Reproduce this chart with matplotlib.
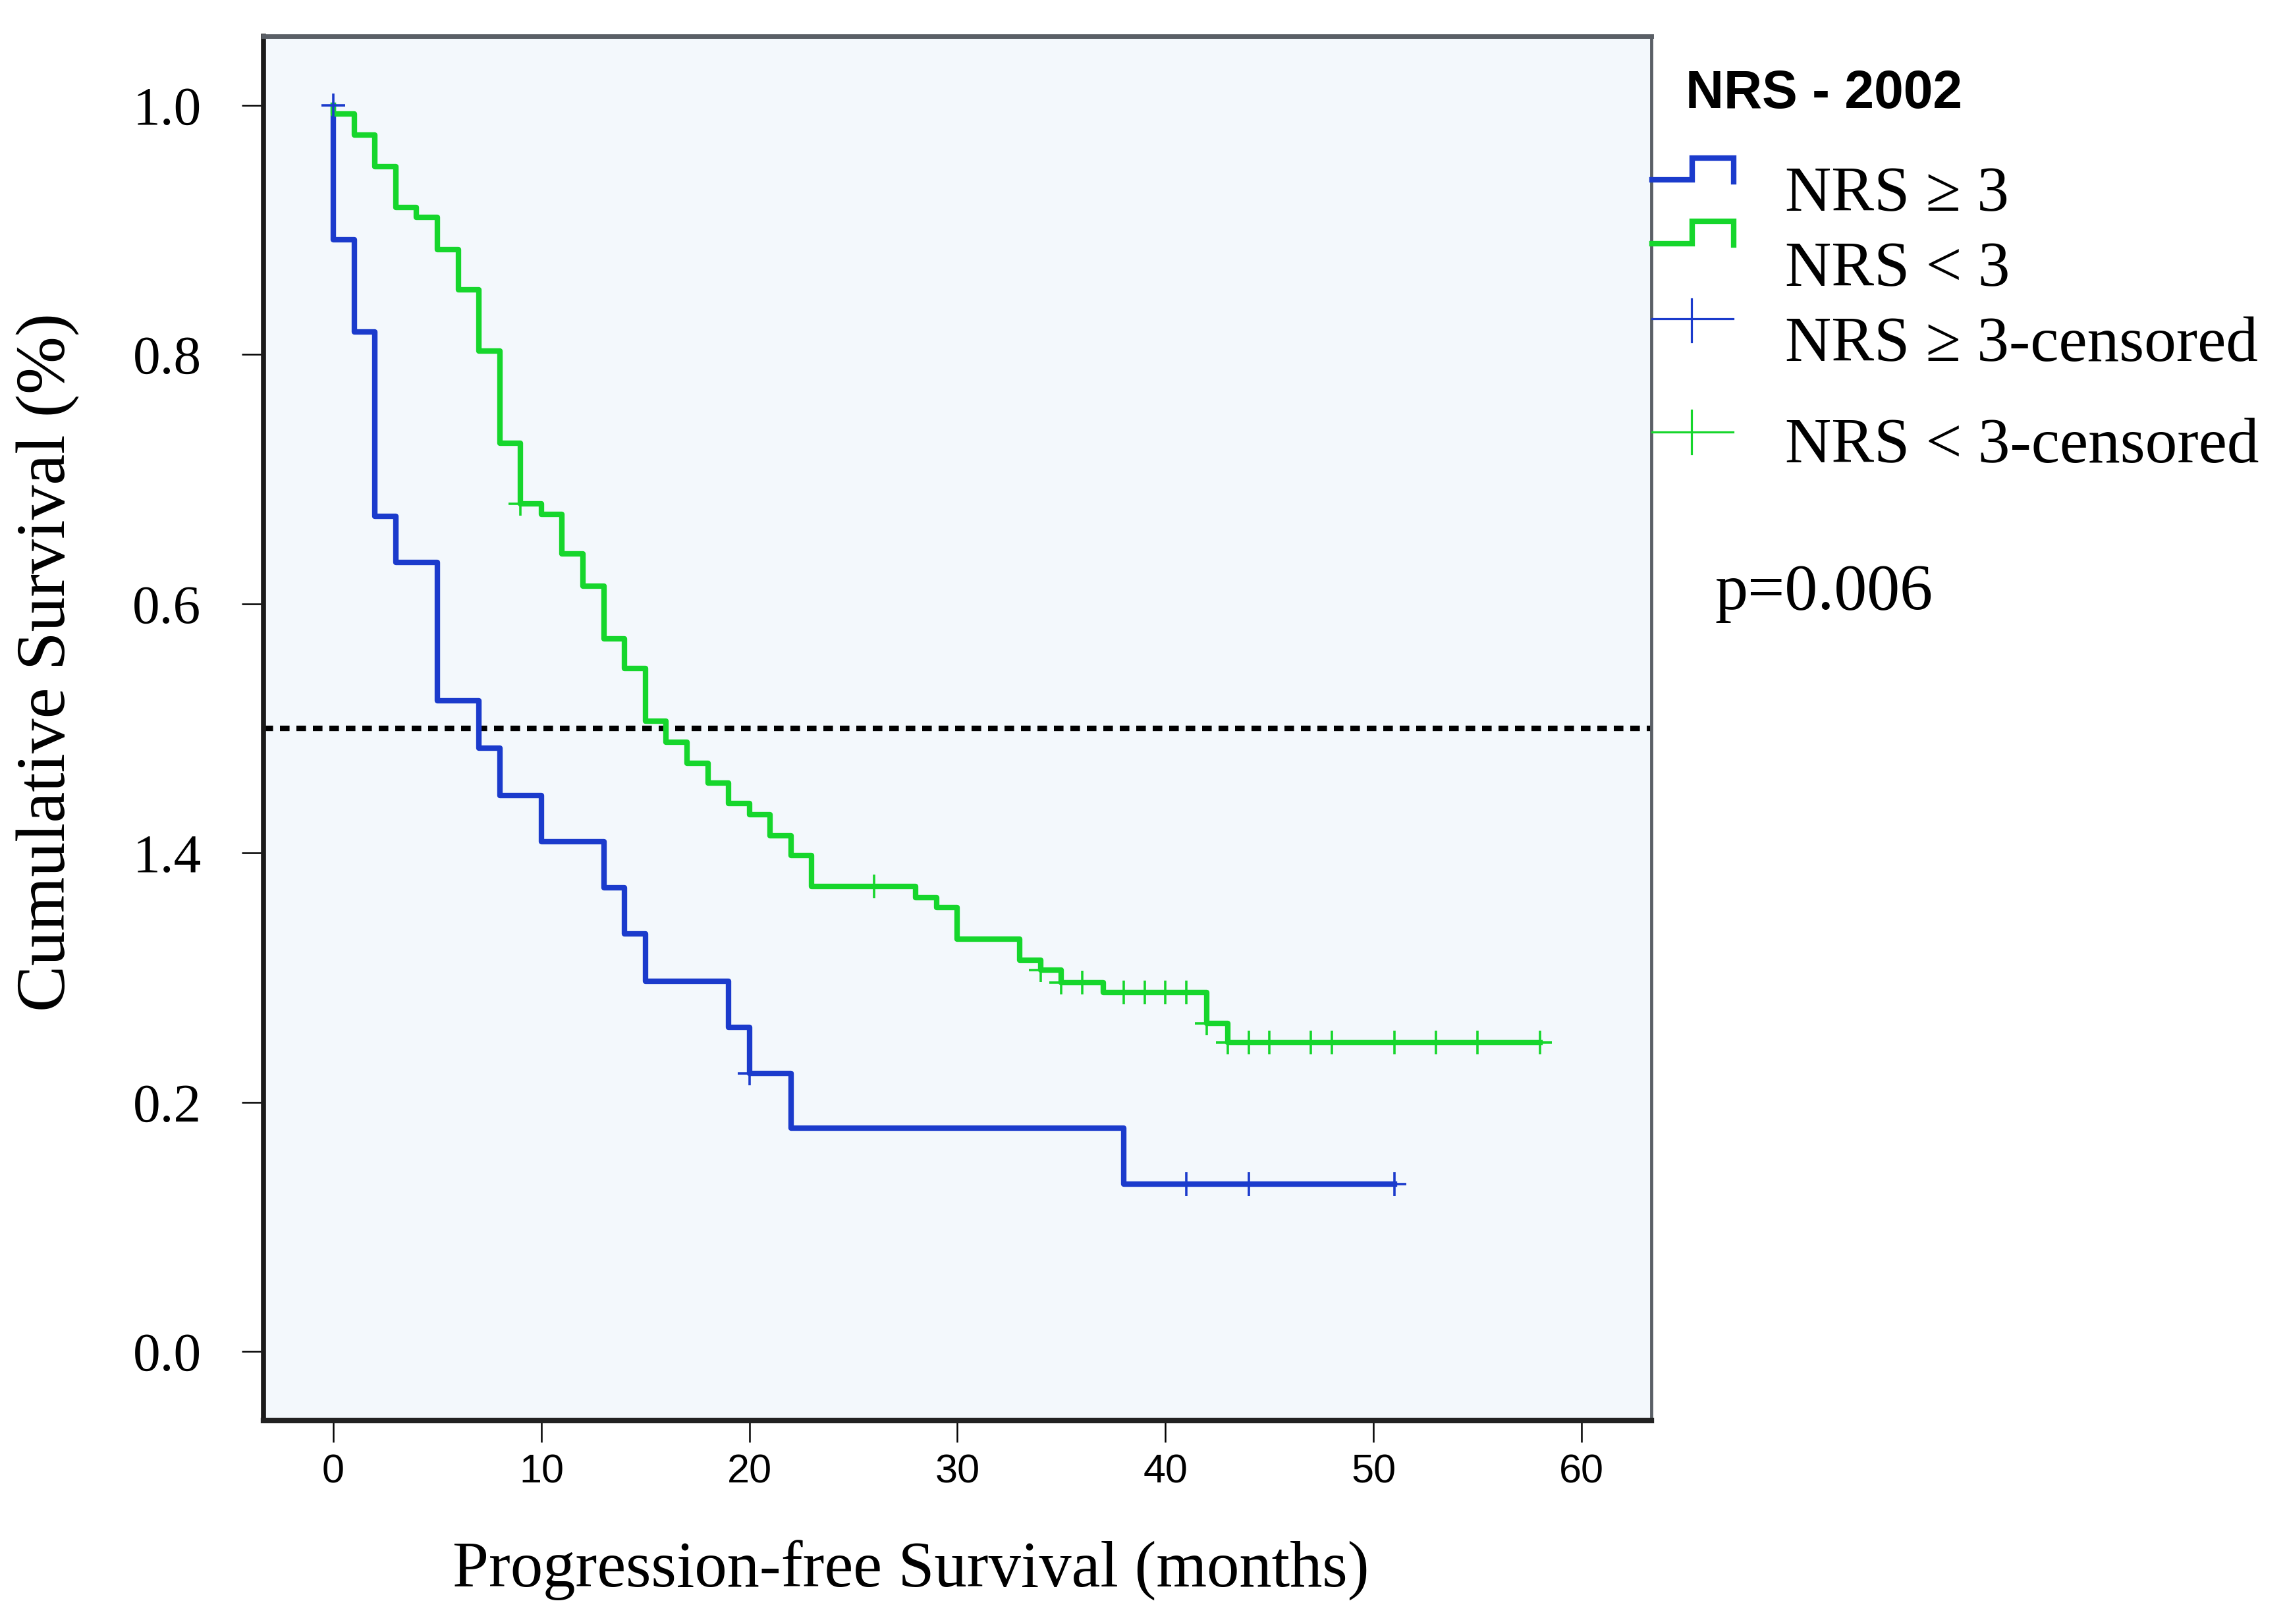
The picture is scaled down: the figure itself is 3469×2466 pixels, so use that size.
import numpy as np
import matplotlib.pyplot as plt

plt.rcParams['lines.scale_dashes'] = False
serif = ['Liberation Serif', 'DejaVu Serif']

# Kaplan-Meier steps (months, cumulative survival)
months_high = [0, 0, 1, 2, 3, 5, 7, 8, 10, 13, 14, 15, 19, 20, 22, 38, 51]
surv_high = [1.0, 0.892, 0.818, 0.670, 0.633, 0.522, 0.484, 0.446, 0.409,
             0.372, 0.335, 0.297, 0.260, 0.223, 0.179, 0.134, 0.134]
cens_high_t = [0, 20, 41, 44, 51]
cens_high_s = [1.0, 0.223, 0.134, 0.134, 0.134]

months_low = [0, 0, 1, 2, 3, 4, 5, 6, 7, 8, 9, 10, 11, 12, 13, 14, 15, 16, 17,
              18, 19, 20, 21, 22, 23, 28, 29, 30, 33, 34, 35, 37, 42, 43, 58]
surv_low = [1.0, 0.993, 0.976, 0.951, 0.918, 0.910, 0.884, 0.852, 0.803, 0.729,
            0.680, 0.672, 0.640, 0.614, 0.572, 0.548, 0.506, 0.489, 0.472, 0.456,
            0.440, 0.431, 0.414, 0.398, 0.373, 0.364, 0.356, 0.331, 0.314, 0.306,
            0.296, 0.288, 0.263, 0.248, 0.248]
cens_low_t = [9, 26, 34, 35, 36, 38, 39, 40, 41, 42, 43, 44, 45, 47, 48, 51, 53, 55, 58]
cens_low_s = [0.680, 0.373, 0.306, 0.296, 0.296, 0.288, 0.288, 0.288, 0.288, 0.263,
              0.248, 0.248, 0.248, 0.248, 0.248, 0.248, 0.248, 0.248, 0.248]

xticks = [0, 10, 20, 30, 40, 50, 60]
yticks = [0.0, 0.2, 0.4, 0.6, 0.8, 1.0]
ytick_labels = ['0.0', '0.2', '1.4', '0.6', '0.8', '1.0']

legend_labels = ['NRS \u2265 3', 'NRS < 3', 'NRS \u2265 3-censored', 'NRS < 3-censored']

blue = '#1B3BCC'
green = '#16D62C'

W, H = 3469, 2466
fig = plt.figure(figsize=(W / 100, H / 100), dpi=100)
fig.patch.set_facecolor('white')

ax = fig.add_axes([400 / W, 1 - 2157 / H, 2107 / W, 2102 / H])
ax.set_facecolor('#F3F8FC')

ax.step(months_high, surv_high, where='post', color=blue, lw=6, zorder=3)
ax.step(months_low, surv_low, where='post', color=green, lw=6, zorder=3)
ax.plot(cens_high_t, cens_high_s, ls='none', marker='+', ms=26, mew=2.6, color=blue, zorder=4)
ax.plot(cens_low_t, cens_low_s, ls='none', marker='+', ms=26, mew=2.6, color=green, zorder=4)

ax.axhline(0.5, color='black', lw=6, dashes=(10.5, 7.5), zorder=2)

ax.set_xlim(-3.36, 63.36)
ax.set_ylim(-0.0555, 1.0555)
ax.set_xticks(xticks)
ax.set_yticks(yticks)
ax.set_yticklabels(ytick_labels)

for lab in ax.get_yticklabels():
    lab.set_family(serif)
    lab.set_fontsize(60)
for lab in ax.get_xticklabels():
    lab.set_family('Liberation Sans')
    lab.set_fontsize(44)

ax.tick_params(axis='both', direction='out', length=24, width=1.8, color='black')
ax.tick_params(axis='y', pad=44)
ax.tick_params(axis='x', pad=12)

ax.spines['left'].set_color('#1a1a1a')
ax.spines['left'].set_linewidth(5.5)
ax.spines['bottom'].set_color('#222222')
ax.spines['bottom'].set_linewidth(6)
ax.spines['top'].set_color('#5a5f66')
ax.spines['top'].set_linewidth(5)
ax.spines['right'].set_color('#5a5f66')
ax.spines['right'].set_linewidth(3.5)

fig.text(73 / W, 1 - 1005 / H, 'Cumulative Survival (%)', rotation=90,
         ha='center', va='center', fontsize=76, family=serif)
fig.text(1383 / W, 1 - 2410 / H, 'Progression-free Survival (months)',
         ha='center', va='baseline', fontsize=71, family=serif)

# legend drawn on an overlay in pixel units
lax = fig.add_axes([0, 0, 1, 1])
lax.set_xlim(0, W)
lax.set_ylim(H, 0)
lax.axis('off')
lax.patch.set_alpha(0)

lax.text(2559, 164, 'NRS - 2002', fontsize=58, fontweight='bold',
         family='Liberation Sans', ha='left', va='baseline')

# step-shaped icons for the curves
lax.plot([2508, 2569, 2569, 2632, 2632], [273, 273, 240, 240, 276], color=blue, lw=6,
         solid_joinstyle='miter')
lax.plot([2508, 2569, 2569, 2632, 2632], [370, 370, 336, 336, 372], color=green, lw=6,
         solid_joinstyle='miter')
# cross icons for the censored marks
lax.plot([2508, 2631], [484, 484], color=blue, lw=2.3)
lax.plot([2568, 2568], [454, 519], color=blue, lw=2.3)
lax.plot([2508, 2631], [656, 656], color=green, lw=2.3)
lax.plot([2568, 2568], [623, 689], color=green, lw=2.3)

for lbl, yb in zip(legend_labels, [320, 434, 548, 702]):
    lax.text(2710, yb, lbl, fontsize=70, family=serif, ha='left', va='baseline')

lax.text(2603, 925, 'p=0.006', fontsize=72, family=serif, ha='left', va='baseline')

fig.savefig('out.png', dpi=100)
